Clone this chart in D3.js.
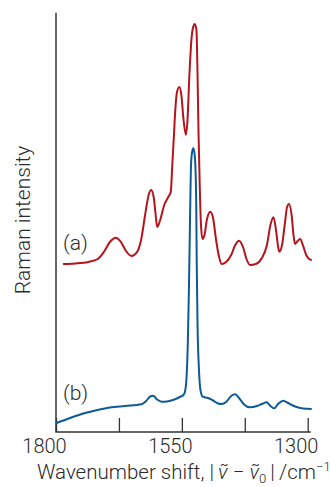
<!DOCTYPE html>
<html>
<head>
<meta charset="utf-8">
<script src="https://cdn.jsdelivr.net/npm/d3@7"></script>
<style>
  html, body { margin: 0; padding: 0; background: #fff; }
  svg { display: block; }
  text { font-family: Roboto, "Liberation Sans", Arial, sans-serif; font-weight: 300; fill: #2a2a2a; }
</style>
</head>
<body>
<svg id="chart" width="330" height="487"></svg>
<script>
// Spectrum (a): wavenumber / cm^-1 and intensity (arbitrary units)
const wavenumberA = [1786,1762,1736,1717,1705,1693,1681,1671,1661,1650,1639,1631,1623,1616,1611,1606,1602,1599,1593,1585,1577,1572,1569,1566,1563,1560,1555,1551,1547,1542,1539,1535,1531,1528,1524.5,1521,1519,1517,1514.5,1512,1509,1505,1500,1493.5,1488,1482,1476,1471,1462,1452,1444,1436.5,1428.5,1421.6,1414.6,1403,1391,1381,1374,1368,1363,1359,1356.4,1351,1345,1341,1337,1332,1328,1325,1320,1315,1309,1303,1297,1292];
const intensityA  = [168,168.5,170,173,180,190,194.3,190,181,176,180,192,217,237,242,235,217,205,212,227,235,240,267,294,322,339,345,337,314,297,310,357,392,404,408,402,362,302,247,207,193,197,213,220.3,214,192,175,168,170,177,187,191.3,185,173,167,168,174,187,207,214.7,202,186,180.3,187,210,225,228,217,196,188,191,193,186,177,173,172];

// Spectrum (b)
const wavenumberB = [1800,1772,1742,1713,1693,1663,1630,1621,1613,1607,1599,1590,1579.5,1567.6,1554,1547,1544,1541,1538,1536,1534.4,1533,1532,1530,1527.3,1525,1523,1521.5,1520.5,1519,1516,1513,1508.6,1498,1488,1478,1471,1462,1452,1444,1436.5,1426.5,1414.6,1400.7,1391,1381.4,1375,1366.4,1359,1348.5,1339,1325,1309,1292];
const intensityB  = [8.7,14,19,22.5,24.5,26,27.7,31,35.5,36.3,32.5,30.3,30.5,32,35,37,40,52,92,142,192,237,264,279,283.7,279,264,232,172,112,62,42,35.3,34,31.5,28.5,28,30,36,37.7,34,27.5,24.7,26,28,29.7,26.5,23.7,28,31.3,29,25.5,23.5,23];

const tickValues = [1800,1675,1550,1425,1300];
const tickLabels = ["1800","","1550","","1300"];
const seriesLabels = ["(a)","(b)"];

const svg = d3.select("#chart");
const x = d3.scaleLinear().domain([1800,1300]).range([56,307.7]);
const y = d3.scaleLinear().domain([0,420]).range([432,12]);

// axes lines
svg.append("line").attr("x1",56).attr("x2",56).attr("y1",y(419.3)).attr("y2",y(0))
  .attr("stroke","#333").attr("stroke-width",1.5);
svg.append("line").attr("x1",55.25).attr("x2",x(1294)).attr("y1",y(0)).attr("y2",y(0))
  .attr("stroke","#333").attr("stroke-width",1.5);

const xAxis = d3.axisBottom(x).tickValues(tickValues).tickSize(-14)
  .tickFormat((d,i)=>tickLabels[i]);
const gx = svg.append("g").attr("transform",`translate(0,${y(0)})`).call(xAxis);
gx.select(".domain").remove();
gx.selectAll(".tick line").attr("stroke","#333").attr("stroke-width",1.3);
gx.selectAll(".tick text").attr("dy",null).attr("y",21).attr("dx",-12)
  .attr("font-size",20).attr("font-family",null).attr("fill",null);

// lines
const lineGen = (xs, ys) => d3.line().x((d,i)=>x(xs[i])).y((d,i)=>y(ys[i])).curve(d3.curveMonotoneX)(xs);
svg.append("path").attr("d", lineGen(wavenumberA, intensityA))
  .attr("fill","none").attr("stroke","#b5141d").attr("stroke-width",2);
svg.append("path").attr("d", lineGen(wavenumberB, intensityB))
  .attr("fill","none").attr("stroke","#0d5a96").attr("stroke-width",2);

// series labels
svg.append("text").attr("x",63).attr("y",250).attr("font-size",21).text(seriesLabels[0]);
svg.append("text").attr("x",63).attr("y",400).attr("font-size",21).text(seriesLabels[1]);

// y label
svg.append("text").attr("transform","translate(30,220) rotate(-90)")
  .attr("text-anchor","middle").attr("font-size",21).text("Raman intensity");

// x title
const t = svg.append("text").attr("x",37).attr("y",479).attr("font-size",20.5);
t.append("tspan").text("Wavenumber shift, |\u2009");
t.append("tspan").attr("font-style","italic").text("\u03BD\u0303");
t.append("tspan").text(" \u2212 ");
t.append("tspan").attr("font-style","italic").text("\u03BD\u0303");
t.append("tspan").attr("font-size",13).attr("dy",4).text("0");
t.append("tspan").attr("dy",-4).text("\u2009|\u2009/cm");
t.append("tspan").attr("font-size",13).attr("dy",-8).text("\u22121");
</script>
</body>
</html>
